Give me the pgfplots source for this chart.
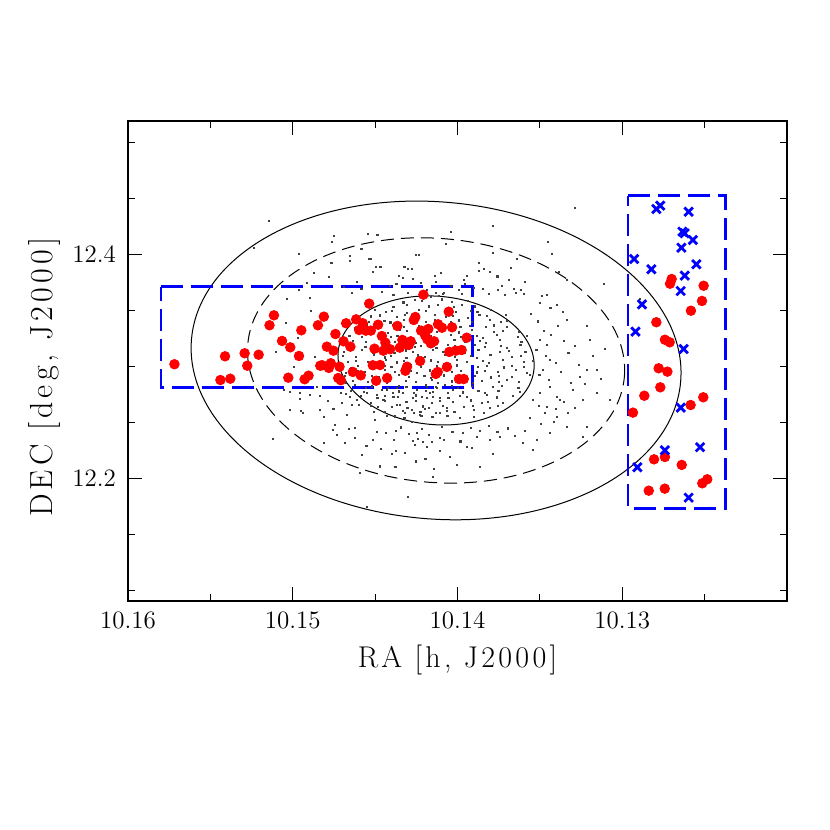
\documentclass[border=0pt]{standalone}
\usepackage{fontspec}
\setmainfont{Latin Modern Roman}
\usepackage{pgfplots}
\pgfplotsset{compat=1.18}

% faint members of the field (RA, DEC)
\pgfplotstableread{
ra dec
10.15147 12.4299
10.15238 12.4055
10.14750 12.4165
10.14761 12.4112
10.14544 12.4186
10.14486 12.4177
10.14962 12.4002
10.14653 12.3987
10.14653 12.3945
10.14765 12.3927
10.14583 12.4046
10.14536 12.3957
10.14524 12.3957
10.14496 12.3891
10.14468 12.3891
10.14514 12.3846
10.14870 12.3835
10.14779 12.3799
10.14613 12.3757
10.14914 12.3748
10.14322 12.3888
10.14302 12.3868
10.14278 12.3873
10.14253 12.3993
10.14233 12.3996
10.14353 12.3808
10.14332 12.3793
10.14371 12.3737
10.14221 12.3743
10.14136 12.3808
10.14130 12.3754
10.14300 12.3659
10.14389 12.3638
10.15035 12.3605
10.14894 12.3609
10.14965 12.3683
10.14129 12.3654
10.14114 12.3629
10.14084 12.3654
10.14162 12.3623
10.13288 12.4413
10.13783 12.4257
10.14041 12.4204
10.13453 12.4112
10.14070 12.4091
10.13785 12.4011
10.13425 12.4002
10.13676 12.3882
10.13870 12.3855
10.13841 12.3873
10.13805 12.3844
10.13383 12.3846
10.13941 12.3808
10.13686 12.3772
10.13961 12.3772
10.13956 12.3737
10.13335 12.3772
10.13110 12.3737
10.13844 12.3689
10.13753 12.3683
10.13617 12.3683
10.13647 12.3659
10.13597 12.3647
10.14086 12.3645
10.13975 12.3647
10.13490 12.3629
10.13712 12.3636
10.12894 12.3600
10.15056 12.2790
10.15015 12.2775
10.14955 12.2761
10.14894 12.2746
10.14833 12.2739
10.14955 12.2710
10.15019 12.2612
10.14950 12.2605
10.14941 12.2582
10.14833 12.2612
10.14753 12.2618
10.14809 12.2552
10.14672 12.2564
10.14742 12.2478
10.14756 12.2433
10.15122 12.2350
10.14658 12.2445
10.14623 12.2448
10.14702 12.2671
10.14652 12.2730
10.14611 12.2701
10.14597 12.2659
10.14641 12.2656
10.14676 12.2754
10.14706 12.2761
10.14813 12.2314
10.14581 12.2210
10.14490 12.2418
10.14433 12.2404
10.14373 12.2424
10.14387 12.2344
10.14373 12.2248
10.14399 12.2219
10.14377 12.2105
10.14247 12.2404
10.14270 12.2338
10.14238 12.2355
10.14211 12.2329
10.14258 12.2299
10.14187 12.2284
10.14156 12.2329
10.14106 12.2359
10.14082 12.2344
10.14142 12.2082
10.14195 12.2177
10.14150 12.2016
10.14302 12.1832
10.14550 12.1748
10.14510 12.2596
10.14500 12.2522
10.14429 12.2558
10.14399 12.2641
10.14348 12.2656
10.14318 12.2587
10.14278 12.2612
10.14278 12.2507
10.14227 12.2567
10.14197 12.2618
10.14156 12.2552
10.14106 12.2582
10.14065 12.2627
10.14450 12.2701
10.14389 12.2730
10.14329 12.2761
10.14268 12.2716
10.14217 12.2730
10.14167 12.2761
10.14106 12.2716
10.14056 12.2761
10.14550 12.2761
10.14490 12.2746
10.14429 12.2790
10.14369 12.2805
10.14308 12.2820
10.14247 12.2790
10.14187 12.2820
10.14126 12.2805
10.14076 12.2835
10.13500 12.3564
10.13459 12.3638
10.13399 12.3549
10.13359 12.3489
10.13338 12.3415
10.13217 12.3362
10.13500 12.3237
10.13459 12.3192
10.13439 12.3058
10.13480 12.2969
10.13439 12.2820
10.13399 12.2730
10.13379 12.2701
10.13329 12.2582
10.13500 12.2761
10.13541 12.2701
10.13459 12.2641
10.13238 12.2701
10.13156 12.2761
10.13217 12.2969
10.13156 12.2969
10.13258 12.2909
10.13076 12.2701
10.13338 12.2463
10.13439 12.2404
10.13520 12.2344
10.13601 12.2314
10.13742 12.2373
10.13803 12.2344
10.13884 12.2373
10.13965 12.2404
10.13944 12.2284
10.14045 12.2195
10.13864 12.2105
10.13541 12.2254
10.13217 12.2463
10.13399 12.2552
10.13298 12.2790
10.13238 12.2373
10.14328 12.3572
10.14257 12.3594
10.14214 12.3584
10.14096 12.3599
10.14034 12.3579
10.13939 12.3589
10.14389 12.3529
10.14305 12.3550
10.14176 12.3537
10.14121 12.3546
10.14020 12.3532
10.13972 12.3547
10.13896 12.3536
10.14502 12.3507
10.14436 12.3486
10.14397 12.3497
10.14305 12.3482
10.14234 12.3504
10.14191 12.3494
10.14073 12.3509
10.14011 12.3489
10.13916 12.3499
10.13879 12.3484
10.13795 12.3505
10.14525 12.3447
10.14470 12.3456
10.14369 12.3442
10.14321 12.3457
10.14245 12.3446
10.14135 12.3462
10.14069 12.3441
10.14030 12.3452
10.13938 12.3437
10.13867 12.3459
10.13824 12.3449
10.13706 12.3464
10.14539 12.3399
10.14444 12.3409
10.14407 12.3394
10.14323 12.3415
10.14194 12.3402
10.14139 12.3411
10.14038 12.3397
10.13990 12.3412
10.13914 12.3401
10.13804 12.3417
10.13738 12.3396
10.13699 12.3407
10.14621 12.3347
10.14550 12.3369
10.14507 12.3359
10.14389 12.3374
10.14327 12.3354
10.14232 12.3364
10.14195 12.3349
10.14111 12.3370
10.13982 12.3357
10.13927 12.3366
10.13826 12.3352
10.13778 12.3367
10.13702 12.3356
10.14617 12.3327
10.14551 12.3306
10.14512 12.3317
10.14420 12.3302
10.14349 12.3324
10.14306 12.3314
10.14188 12.3329
10.14126 12.3309
10.14031 12.3319
10.13994 12.3304
10.13910 12.3325
10.13781 12.3312
10.13726 12.3321
10.13625 12.3307
10.14656 12.3277
10.14580 12.3266
10.14470 12.3282
10.14404 12.3261
10.14365 12.3272
10.14273 12.3257
10.14202 12.3279
10.14159 12.3269
10.14041 12.3284
10.13979 12.3264
10.13884 12.3274
10.13847 12.3259
10.13763 12.3280
10.13634 12.3267
10.13579 12.3276
10.14682 12.3217
10.14634 12.3232
10.14558 12.3221
10.14448 12.3237
10.14382 12.3216
10.14343 12.3227
10.14251 12.3212
10.14180 12.3234
10.14137 12.3224
10.14019 12.3239
10.13957 12.3219
10.13862 12.3229
10.13825 12.3214
10.13741 12.3235
10.13612 12.3222
10.14660 12.3186
10.14559 12.3172
10.14511 12.3187
10.14435 12.3176
10.14325 12.3192
10.14259 12.3171
10.14220 12.3182
10.14128 12.3167
10.14057 12.3189
10.14014 12.3179
10.13896 12.3194
10.13834 12.3174
10.13739 12.3184
10.13702 12.3169
10.13618 12.3190
10.14690 12.3131
10.14580 12.3147
10.14514 12.3126
10.14475 12.3137
10.14383 12.3122
10.14312 12.3144
10.14269 12.3134
10.14151 12.3149
10.14089 12.3129
10.13994 12.3139
10.13957 12.3124
10.13873 12.3145
10.13744 12.3132
10.13689 12.3141
10.13588 12.3127
10.14693 12.3097
10.14617 12.3086
10.14507 12.3102
10.14441 12.3081
10.14402 12.3092
10.14310 12.3077
10.14239 12.3099
10.14196 12.3089
10.14078 12.3104
10.14016 12.3084
10.13921 12.3094
10.13884 12.3079
10.13800 12.3100
10.13671 12.3087
10.13616 12.3096
10.14666 12.3037
10.14618 12.3052
10.14542 12.3041
10.14432 12.3057
10.14366 12.3036
10.14327 12.3047
10.14235 12.3032
10.14164 12.3054
10.14121 12.3044
10.14003 12.3059
10.13941 12.3039
10.13846 12.3049
10.13809 12.3034
10.13725 12.3055
10.13596 12.3042
10.13541 12.3051
10.14712 12.3012
10.14646 12.2991
10.14607 12.3002
10.14515 12.2987
10.14444 12.3009
10.14401 12.2999
10.14283 12.3014
10.14221 12.2994
10.14126 12.3004
10.14089 12.2989
10.14005 12.3010
10.13876 12.2997
10.13821 12.3006
10.13720 12.2992
10.13672 12.3007
10.13596 12.2996
10.14675 12.2942
10.14604 12.2964
10.14561 12.2954
10.14443 12.2969
10.14381 12.2949
10.14286 12.2959
10.14249 12.2944
10.14165 12.2965
10.14036 12.2952
10.13981 12.2961
10.13880 12.2947
10.13832 12.2962
10.13756 12.2951
10.13646 12.2967
10.13580 12.2946
10.14682 12.2912
10.14590 12.2897
10.14519 12.2919
10.14476 12.2909
10.14358 12.2924
10.14296 12.2904
10.14201 12.2914
10.14164 12.2899
10.14080 12.2920
10.13951 12.2907
10.13896 12.2916
10.13795 12.2902
10.13747 12.2917
10.13671 12.2906
10.13561 12.2922
10.14676 12.2854
10.14637 12.2875
10.14545 12.2862
10.14474 12.2871
10.14431 12.2857
10.14313 12.2872
10.14251 12.2861
10.14156 12.2877
10.14119 12.2856
10.14035 12.2867
10.13906 12.2852
10.13851 12.2874
10.13750 12.2864
10.13702 12.2879
10.13626 12.2859
10.14622 12.2832
10.14556 12.2811
10.14517 12.2822
10.14425 12.2807
10.14354 12.2829
10.14311 12.2819
10.14193 12.2834
10.14131 12.2814
10.14036 12.2824
10.13999 12.2809
10.13915 12.2830
10.13786 12.2817
10.13731 12.2826
10.13630 12.2812
10.14645 12.2782
10.14569 12.2771
10.14459 12.2787
10.14393 12.2766
10.14354 12.2777
10.14262 12.2762
10.14191 12.2784
10.14148 12.2774
10.14030 12.2789
10.13968 12.2769
10.13873 12.2779
10.13836 12.2764
10.13752 12.2785
10.13623 12.2772
10.14587 12.2736
10.14486 12.2722
10.14438 12.2737
10.14362 12.2726
10.14252 12.2742
10.14186 12.2721
10.14147 12.2732
10.14055 12.2717
10.13984 12.2739
10.13941 12.2729
10.13823 12.2744
10.13761 12.2724
10.13666 12.2734
10.14523 12.2674
10.14439 12.2695
10.14310 12.2682
10.14255 12.2691
10.14154 12.2677
10.14106 12.2692
10.14030 12.2681
10.13920 12.2697
10.13854 12.2676
10.13815 12.2687
10.13723 12.2672
10.14527 12.2649
10.14484 12.2639
10.14366 12.2654
10.14304 12.2634
10.14209 12.2644
10.14172 12.2629
10.14088 12.2650
10.13959 12.2637
10.13904 12.2646
10.13803 12.2632
10.13755 12.2647
10.14440 12.2591
10.14330 12.2607
10.14264 12.2586
10.14225 12.2597
10.14133 12.2582
10.14062 12.2604
10.14019 12.2594
10.13901 12.2609
10.13839 12.2589
10.14381 12.2554
10.14322 12.2543
10.14219 12.2558
10.14148 12.2547
10.14061 12.2556
10.13987 12.2541
10.13902 12.2552
10.13512 12.3403
10.13478 12.3317
10.13431 12.3279
10.13392 12.3364
10.13356 12.3226
10.13521 12.3152
10.13462 12.3098
10.13405 12.3031
10.13327 12.3119
10.13289 12.3187
10.13503 12.2921
10.13447 12.2879
10.13372 12.2948
10.13314 12.2851
10.13261 12.3012
10.13508 12.2648
10.13468 12.2589
10.13404 12.2621
10.13352 12.2683
10.13288 12.2634
10.13226 12.2842
10.13179 12.3093
10.13131 12.2889
10.13562 12.2537
10.13492 12.2486
10.13417 12.2508
10.13552 12.3472
10.13436 12.3521
10.13197 12.3241
10.13106 12.3158
10.14732 12.2387
10.14681 12.2319
10.14622 12.2362
10.14553 12.2289
10.14512 12.2347
10.14467 12.2261
10.14341 12.2456
10.14296 12.2398
10.14216 12.2441
10.14172 12.2392
10.14095 12.2463
10.14031 12.2417
10.13982 12.2331
10.13921 12.2452
10.13862 12.2426
10.13807 12.2468
10.13758 12.2412
10.13693 12.2447
10.13654 12.2381
10.13592 12.2426
10.14318 12.2227
10.14251 12.2152
10.14109 12.2243
10.14003 12.2118
10.13912 12.2276
10.13787 12.2219
10.14472 12.2108
10.14593 12.2047
10.14692 12.3712
10.14641 12.3658
10.14583 12.3694
10.14457 12.3669
10.14412 12.3721
10.14187 12.3682
10.14038 12.3718
10.13992 12.3683
10.13901 12.3701
10.13812 12.3652
10.13731 12.3719
10.13656 12.3691
10.13589 12.3752
10.14272 12.3781
10.14103 12.3832
10.13872 12.3927
10.13758 12.3804
10.13641 12.3961
10.15043 12.3392
10.14968 12.3254
10.14891 12.3498
10.14867 12.3089
10.14995 12.2998
10.15102 12.3127
10.14788 12.2689
10.14853 12.2816
}\fieldtable

% red circles
\pgfplotstableread{
ra dec
10.15718 12.3020
10.15411 12.3091
10.15439 12.2879
10.15379 12.2891
10.15292 12.3118
10.15276 12.3007
10.15207 12.3105
10.15114 12.3457
10.15141 12.3368
10.15065 12.3228
10.15015 12.3171
10.14948 12.3323
10.14962 12.3094
10.15027 12.2900
10.14928 12.2886
10.14904 12.2918
10.14847 12.3368
10.14833 12.3007
10.14207 12.3641
10.14536 12.3561
10.14811 12.3445
10.14676 12.3386
10.14615 12.3421
10.14575 12.3386
10.14597 12.3326
10.14556 12.3320
10.14526 12.3320
10.14482 12.3373
10.14365 12.3362
10.14256 12.3442
10.14265 12.3415
10.14053 12.3489
10.14118 12.3377
10.14094 12.3346
10.14033 12.3350
10.14221 12.3320
10.14177 12.3335
10.14197 12.3281
10.14183 12.3243
10.14142 12.3225
10.14162 12.3207
10.14741 12.3290
10.14692 12.3225
10.14650 12.3177
10.14793 12.3177
10.14753 12.3141
10.14459 12.3272
10.14438 12.3213
10.14504 12.3159
10.14450 12.3141
10.14409 12.3154
10.14350 12.3168
10.14335 12.3237
10.14284 12.3225
10.14296 12.3192
10.13944 12.3257
10.14050 12.3130
10.14011 12.3141
10.13975 12.3147
10.14227 12.3049
10.14821 12.3011
10.14769 12.3029
10.14781 12.2987
10.14716 12.2998
10.14635 12.2951
10.14587 12.2921
10.14514 12.3011
10.14470 12.3013
10.14306 12.2998
10.14316 12.2962
10.14064 12.2996
10.14120 12.2951
10.14132 12.2933
10.14724 12.2897
10.14708 12.2877
10.14494 12.2873
10.14427 12.2897
10.13991 12.2888
10.13962 12.2888
10.12700 12.3781
10.12710 12.3739
10.12506 12.3721
10.12516 12.3585
10.12583 12.3498
10.12793 12.3395
10.12741 12.3239
10.12712 12.3216
10.12779 12.2984
10.12726 12.2954
10.12769 12.2814
10.12866 12.2739
10.12508 12.2725
10.12585 12.2656
10.12935 12.2588
10.12807 12.2171
10.12741 12.2192
10.12639 12.2121
10.12514 12.1957
10.12484 12.1993
10.12839 12.1891
10.12742 12.1909
}\redtable

% blue crosses
\pgfplotstableread{
ra dec
10.12793 12.4406
10.12769 12.4436
10.12597 12.4382
10.12635 12.4204
10.12621 12.4189
10.12571 12.4129
10.12641 12.4061
10.12928 12.3960
10.12823 12.3868
10.12550 12.3912
10.12621 12.3811
10.12645 12.3674
10.12880 12.3555
10.12920 12.3311
10.12627 12.3156
10.12645 12.2632
10.12741 12.2252
10.12528 12.2279
10.12908 12.2100
10.12597 12.1829
}\bluetable

\begin{document}
\begin{tikzpicture}
\useasboundingbox (-64pt,-114.5pt) rectangle (351pt,300.5pt);
\begin{axis}[
  at={(0pt,0pt)}, anchor=south west,
  width=329.5pt, height=240pt, scale only axis,
  x dir=reverse,
  xmin=10.12, xmax=10.16, ymin=12.0906, ymax=12.5192,
  xtick={10.13,10.14,10.15,10.16},
  minor xtick={10.125,10.135,10.145,10.155},
  ytick={12.2,12.4},
  minor ytick={12.1,12.15,12.25,12.3,12.35,12.45,12.5},
  tick pos=both, tick align=inside,
  major tick length=7pt, minor tick length=3.5pt,
  scaled ticks=false,
  xticklabel style={/pgf/number format/fixed, /pgf/number format/fixed zerofill,
    /pgf/number format/precision=2, yshift=-2pt},
  yticklabel style={/pgf/number format/fixed, /pgf/number format/fixed zerofill,
    /pgf/number format/precision=1, xshift=-2.5pt},
  /pgf/number format/assume math mode=true,
  ticklabel style={font=\fontsize{12.5}{12.5}\selectfont},
  xlabel={RA [h, J2000]},
  ylabel={DEC [deg, J2000]},
  xlabel style={font=\fontsize{15}{15}\selectfont\addfontfeature{LetterSpace=11},
    at={(axis description cs:0.5,-0.123)}, anchor=center},
  ylabel style={font=\fontsize{16}{16}\selectfont\addfontfeature{LetterSpace=13},
    at={(axis description cs:-0.126,0.466)}, anchor=center},
  axis line style={line width=0.6pt},
  every tick/.style={black, line width=0.6pt},
]
\addplot[only marks, mark=square*, mark size=0.28pt, black!75] table[x=ra, y=dec] {\fieldtable};

\draw[black, line width=0.5pt, rotate around={-5:(axis cs:10.1413,12.3054)}]
  (axis cs:10.1413,12.3054) ellipse [x radius=122.75pt, y radius=79.25pt];
\draw[black, line width=0.5pt, dash pattern=on 6.5pt off 3.5pt, rotate around={-5:(axis cs:10.1413,12.3054)}]
  (axis cs:10.1413,12.3054) ellipse [x radius=94.5pt, y radius=61pt];
\draw[black, line width=0.5pt, rotate around={-5:(axis cs:10.1413,12.3054)}]
  (axis cs:10.1413,12.3054) ellipse [x radius=49.15pt, y radius=32.1pt];

\addplot[blue, line width=1.3pt, dash pattern=on 11pt off 4pt] coordinates {
  (10.1580,12.3712) (10.1391,12.3712) (10.1391,12.2814) (10.1580,12.2814) (10.1580,12.3712)};
\addplot[blue, line width=1.3pt, dash pattern=on 11pt off 4pt] coordinates {
  (10.12965,12.4525) (10.12373,12.4525) (10.12373,12.1734) (10.12965,12.1734) (10.12965,12.4525)};

\addplot[only marks, mark=*, mark size=2.4pt, mark options={fill=red, draw=red}] table[x=ra, y=dec] {\redtable};
\addplot[only marks, mark=x, mark size=3pt, mark options={draw=blue, line width=1.4pt}] table[x=ra, y=dec] {\bluetable};
\end{axis}
\end{tikzpicture}
\end{document}
